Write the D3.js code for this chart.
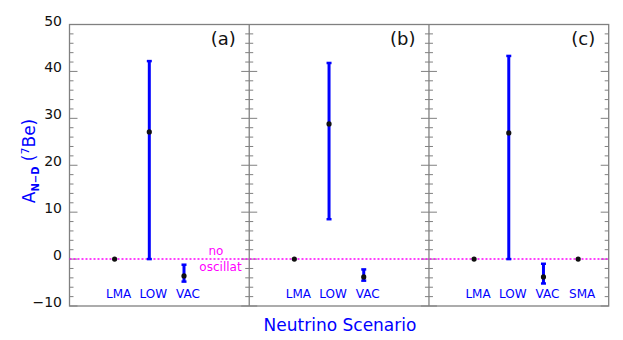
<!DOCTYPE html>
<html>
<head>
<meta charset="utf-8">
<script src="https://cdn.jsdelivr.net/npm/d3@7"></script>
<style>
  body { margin: 0; background: #fff; }
  text { font-family: "DejaVu Sans", sans-serif; }
</style>
</head>
<body>
<div id="chart"></div>
<script>
// Chart data
const panels = ['(a)', '(b)', '(c)'];
const scenarios = [['LMA', 'LOW', 'VAC'], ['LMA', 'LOW', 'VAC'], ['LMA', 'LOW', 'VAC', 'SMA']];
const central = [[0, 27.1, -3.6], [0, 28.8, -3.8], [0, 26.9, -3.8, 0]];
const upper = [[0, 42.2, -1.2], [0, 41.8, -2.2], [0, 43.3, -1.0, 0]];
const lower = [[0, 0, -4.8], [0, 8.5, -4.6], [0, 0, -5.2, 0]];
const yTicks = [-10, 0, 10, 20, 30, 40, 50];

const width = 623, height = 340;
const margin = { top: 24.5, right: 14.3, bottom: 34, left: 69.5 };

const svg = d3.select("#chart")
    .append("svg")
    .attr("width", width)
    .attr("height", height);

// Scales
const yScale = d3.scaleLinear()
    .domain([-10, 50])
    .range([height - margin.bottom, margin.top]);

const panelScale = d3.scaleBand()
    .domain(panels)
    .range([margin.left, width - margin.right])
    .padding(0);

const pw = panelScale.bandwidth();
const frameColor = "#808080";

// Frame
svg.append("rect")
    .attr("x", margin.left)
    .attr("y", margin.top)
    .attr("width", width - margin.left - margin.right)
    .attr("height", height - margin.top - margin.bottom)
    .attr("fill", "none")
    .attr("stroke", frameColor)
    .attr("stroke-width", 1.3);

// Minor and major tick lines
const minor = d3.range(-10, 51, 2);
function tickLines(x, dirs) {
    dirs.forEach(dir => {
        svg.append("g").selectAll("line")
            .data(minor)
            .enter()
            .append("line")
            .attr("x1", x)
            .attr("x2", d => x + dir * (d % 10 === 0 ? 8 : 4))
            .attr("y1", d => yScale(d))
            .attr("y2", d => yScale(d))
            .attr("stroke", frameColor)
            .attr("stroke-width", 1);
    });
}
tickLines(margin.left, [1]);
tickLines(width - margin.right, [-1]);
panels.slice(1).forEach(p => {
    const x = panelScale(p);
    svg.append("line")
        .attr("x1", x).attr("x2", x)
        .attr("y1", margin.top).attr("y2", height - margin.bottom)
        .attr("stroke", frameColor)
        .attr("stroke-width", 1.3);
    tickLines(x, [1, -1]);
});

// Y tick labels
svg.append("g").selectAll("text")
    .data(yTicks)
    .enter()
    .append("text")
    .attr("x", 62)
    .attr("y", d => yScale(d) + 1)
    .attr("text-anchor", "end")
    .style("font-size", "14px")
    .attr("fill", "#111")
    .text(d => d < 0 ? "\u2212" + Math.abs(d) : d);

// Y axis label
const yLab = svg.append("text")
    .attr("transform", "translate(35,161) rotate(-90)")
    .attr("text-anchor", "middle")
    .attr("fill", "blue")
    .style("font-size", "17px");
yLab.append("tspan").text("A");
yLab.append("tspan").attr("dy", 4).style("font-size", "10px").style("font-weight", "bold").text("N\u2212D");
yLab.append("tspan").attr("dy", -4).text(" (");
yLab.append("tspan").attr("dy", -6).style("font-size", "11px").text("7");
yLab.append("tspan").attr("dy", 6).text("Be)");

// X axis title
svg.append("text")
    .attr("x", 340)
    .attr("y", 331)
    .attr("text-anchor", "middle")
    .attr("fill", "blue")
    .style("font-size", "17px")
    .text("Neutrino Scenario");

// No oscillation line
svg.append("line")
    .attr("x1", margin.left)
    .attr("x2", width - margin.right)
    .attr("y1", yScale(0))
    .attr("y2", yScale(0))
    .attr("stroke", "#ff00ff")
    .attr("stroke-width", 1.5)
    .attr("stroke-dasharray", "2,2");

svg.append("text")
    .attr("x", 216).attr("y", 255)
    .attr("text-anchor", "middle")
    .attr("fill", "#ff00ff")
    .style("font-size", "12px")
    .text("no");
svg.append("text")
    .attr("x", 220.5).attr("y", 271)
    .attr("text-anchor", "middle")
    .attr("fill", "#ff00ff")
    .style("font-size", "12px")
    .text("oscillat");

// Panels
panels.forEach((p, pi) => {
    const x0 = panelScale(p);
    const xScale = d3.scaleLinear()
        .domain([0, 5.18])
        .range([x0, x0 + pw]);

    const rows = scenarios[pi].map((s, i) => ({
        name: s, pos: 1.3 + i, c: central[pi][i], hi: upper[pi][i], lo: lower[pi][i]
    }));
    const g = svg.append("g");

    // Panel label
    g.append("text")
        .attr("x", x0 + pw - 13.5)
        .attr("y", 45)
        .attr("text-anchor", "end")
        .attr("fill", "#111")
        .style("font-size", "18px")
        .text(p);

    const bars = rows.filter(d => d.hi !== d.lo);

    // Error bars
    g.selectAll(".err")
        .data(bars)
        .enter()
        .append("line")
        .attr("x1", d => xScale(d.pos))
        .attr("x2", d => xScale(d.pos))
        .attr("y1", d => yScale(d.hi))
        .attr("y2", d => yScale(d.lo))
        .attr("stroke", "blue")
        .attr("stroke-width", 3);

    ["hi", "lo"].forEach(k => {
        g.selectAll(".cap-" + k)
            .data(bars)
            .enter()
            .append("line")
            .attr("x1", d => xScale(d.pos) - 2.5)
            .attr("x2", d => xScale(d.pos) + 2.5)
            .attr("y1", d => yScale(d[k]))
            .attr("y2", d => yScale(d[k]))
            .attr("stroke", "blue")
            .attr("stroke-width", 2.5);
    });

    // Central points
    g.selectAll(".pt")
        .data(rows)
        .enter()
        .append("circle")
        .attr("cx", d => xScale(d.pos))
        .attr("cy", d => yScale(d.c))
        .attr("r", 2.6)
        .attr("fill", "#111");

    // Scenario labels
    g.selectAll(".lab")
        .data(rows)
        .enter()
        .append("text")
        .attr("x", d => xScale(d.pos) + 4)
        .attr("y", 298)
        .attr("text-anchor", "middle")
        .attr("fill", "blue")
        .style("font-size", "12px")
        .text(d => d.name);
});
</script>
</body>
</html>
